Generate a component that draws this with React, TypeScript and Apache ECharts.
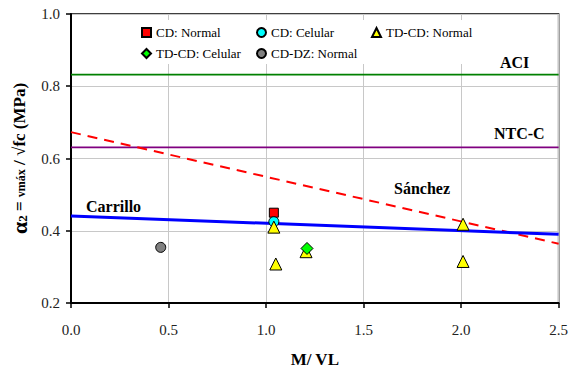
import React, { useEffect, useRef } from "react";
import * as echarts from "echarts";

const xTicks = [0, 0.5, 1.0, 1.5, 2.0, 2.5];
const yTicks = [0.2, 0.4, 0.6, 0.8, 1.0];

const cdNormal: [number, number][] = [[1.04, 0.45]];
const cdCelular: [number, number][] = [[1.04, 0.425]];
const tdcdNormal: [number, number][] = [
  [1.04, 0.41],
  [1.05, 0.308],
  [1.205, 0.342],
  [2.01, 0.418],
  [2.01, 0.315],
];
const tdcdCelular: [number, number][] = [[1.21, 0.351]];
const cddzNormal: [number, number][] = [[0.46, 0.354]];

const aciLine: [number, number][] = [[0, 0.832], [2.5, 0.832]];
const ntcLine: [number, number][] = [[0, 0.631], [2.5, 0.631]];
const sanchezLine: [number, number][] = [[0, 0.673], [2.5, 0.364]];
const carrilloLine: [number, number][] = [[0, 0.441], [2.5, 0.39]];

const SERIF = "Times New Roman";

export default function App() {
  const ref = useRef<HTMLDivElement>(null);
  useEffect(() => {
    if (!ref.current) return;
    document.body.style.margin = "0";
    const chart = echarts.init(ref.current, undefined, { renderer: "svg" });
    const legendText = { fontFamily: SERIF, fontSize: 13, color: "#000" };
    const mkLegend = (name: string, left: number, top: number) => ({
      data: [name],
      left,
      top,
      padding: 0,
      itemWidth: 9,
      itemHeight: 9,
      itemGap: 0,
      textStyle: legendText,
      selectedMode: false,
      z: 10,
    });
    const lbl = { fontFamily: SERIF, fontSize: 16, fontWeight: "bold", fill: "#000" };
    const scatterBase = (name: string, data: [number, number][], symbol: string, size: number, color: string) => ({
      name,
      type: "scatter",
      data,
      symbol,
      symbolSize: size,
      itemStyle: { color, borderColor: "#000", borderWidth: 1, opacity: 1 },
      z: 5,
    });
    const lineSeries = (data: [number, number][], color: string, width: number, type: any = "solid") => ({
      type: "line",
      data,
      symbol: "none",
      lineStyle: { color, width, type },
      z: 3,
      silent: true,
    });
    chart.setOption({
      animation: false,
      textStyle: { fontFamily: SERIF },
      grid: {
        left: 71,
        right: 11,
        top: 14,
        bottom: 62,
        show: true,
        borderColor: "#000",
        borderWidth: 1.5,
        backgroundColor: "transparent",
      },
      legend: [
        mkLegend("CD: Normal", 141, 26),
        mkLegend("CD: Celular", 256, 26),
        mkLegend("TD-CD: Normal", 371, 26),
        mkLegend("TD-CD: Celular", 141, 47),
        mkLegend("CD-DZ: Normal", 256, 47),
      ],
      graphic: [
        {
          type: "rect",
          shape: { x: 135, y: 20, width: 345, height: 44 },
          style: { fill: "#fff" },
          z: 1,
          silent: true,
        },
        { type: "text", left: 500, top: 54, style: { ...lbl, text: "ACI" }, z: 10 },
        { type: "text", left: 494, top: 125, style: { ...lbl, text: "NTC-C" }, z: 10 },
        { type: "text", left: 394, top: 180, style: { ...lbl, text: "Sánchez" }, z: 10 },
        { type: "text", left: 86, top: 198, style: { ...lbl, text: "Carrillo" }, z: 10 },
      ],
      xAxis: {
        type: "value",
        min: xTicks[0],
        max: xTicks[xTicks.length - 1],
        interval: 0.5,
        name: "M/ VL",
        nameLocation: "middle",
        nameGap: 48,
        nameTextStyle: { fontFamily: SERIF, fontSize: 17, fontWeight: "bold", color: "#000" },
        axisLine: { lineStyle: { color: "#000", width: 2 }, onZero: false },
        axisTick: { show: true, length: 5, lineStyle: { color: "#000", width: 1.5 } },
        axisLabel: {
          fontFamily: SERIF,
          fontSize: 15,
          color: "#222",
          margin: 19,
          formatter: (v: number) => v.toFixed(1),
        },
        splitLine: { show: true, lineStyle: { color: "#c8c8c8", width: 1 } },
      },
      yAxis: {
        type: "value",
        min: yTicks[0],
        max: yTicks[yTicks.length - 1],
        interval: 0.2,
        name: "{a|α}{s|2}{e| = }{v|vmáx}{e| / √fc (MPa)}",
        nameLocation: "middle",
        nameGap: 40,
        nameTextStyle: {
          fontFamily: SERIF,
          fontSize: 17,
          fontWeight: "bold",
          color: "#000",
          rich: {
            a: { fontFamily: SERIF, fontSize: 22, fontWeight: "bold", color: "#000" },
            s: { fontFamily: SERIF, fontSize: 13, fontWeight: "bold", color: "#000", padding: [6, 0, 0, 0] },
            e: { fontFamily: SERIF, fontSize: 17, fontWeight: "bold", color: "#000" },
            v: { fontFamily: SERIF, fontSize: 12, fontWeight: "bold", color: "#000", padding: [4, 0, 0, 0] },
          },
        },
        axisLine: { lineStyle: { color: "#000", width: 2 }, onZero: false },
        axisTick: { show: true, length: 5, lineStyle: { color: "#000", width: 1.5 } },
        axisLabel: {
          fontFamily: SERIF,
          fontSize: 15,
          color: "#222",
          margin: 11,
          formatter: (v: number) => v.toFixed(1),
        },
        splitLine: { show: true, lineStyle: { color: "#c8c8c8", width: 1 } },
      },
      series: [
        lineSeries(aciLine, "#008000", 1.8),
        lineSeries(ntcLine, "#800080", 1.8),
        lineSeries(sanchezLine, "#ff0000", 2, [10, 7]),
        lineSeries(carrilloLine, "#0000ff", 3),
        scatterBase("CD: Normal", cdNormal, "rect", 9, "#ff0000"),
        scatterBase("CD: Celular", cdCelular, "circle", 10, "#00ffff"),
        scatterBase("TD-CD: Normal", tdcdNormal, "triangle", 12, "#ffff00"),
        scatterBase("TD-CD: Celular", tdcdCelular, "diamond", 12, "#00ff00"),
        scatterBase("CD-DZ: Normal", cddzNormal, "circle", 10, "#808080"),
      ],
    });
    return () => chart.dispose();
  }, []);
  return <div ref={ref} style={{ width: 571, height: 373, background: "#fff" }} />;
}
